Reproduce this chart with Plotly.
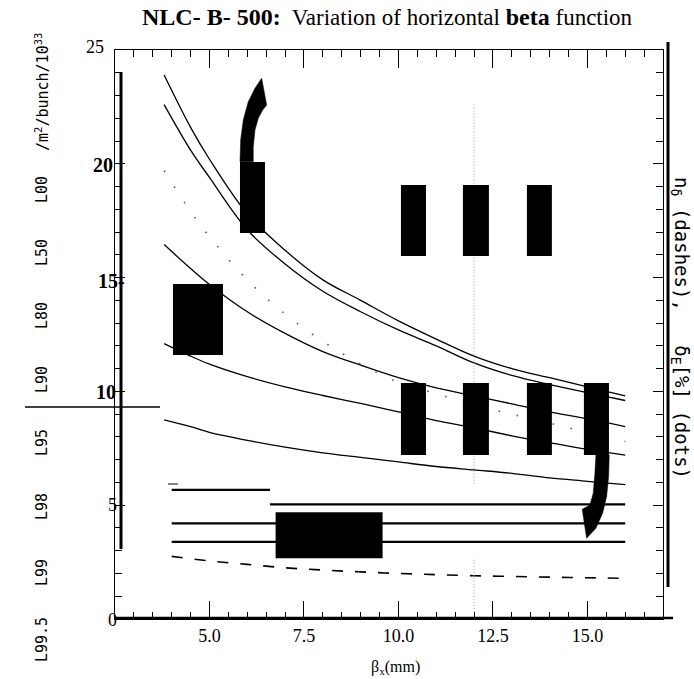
import plotly.graph_objects as go

# ---- data ---------------------------------------------------------------
beta_x = [3.8, 4.5, 5, 6, 7, 8, 9, 10, 11, 12, 13, 14, 15, 16]

lum_1 = [23.9, 21.6, 20.2, 17.8, 16.2, 14.9, 14.0, 13.1, 12.3, 11.55, 11.0, 10.6, 10.2, 9.8]
lum_2 = [22.6, 20.6, 19.4, 17.1, 15.6, 14.4, 13.5, 12.7, 12.0, 11.25, 10.7, 10.3, 9.95, 9.6]
lum_3 = [16.45, 15.4, 14.7, 13.5, 12.55, 11.75, 11.15, 10.6, 10.15, 9.8, 9.45, 9.1, 8.8, 8.45]
lum_4 = [12.1, 11.55, 11.2, 10.65, 10.2, 9.82, 9.47, 9.1, 8.72, 8.4, 8.05, 7.75, 7.45, 7.2]
lum_5 = [8.75, 8.45, 8.2, 7.85, 7.55, 7.3, 7.1, 6.9, 6.7, 6.55, 6.4, 6.2, 6.05, 5.9]

delta_e = [19.7, 17.9, 16.8, 14.9, 13.4, 12.2, 11.2, 10.4, 9.9, 9.4, 9.0, 8.6, 8.2, 7.8]

beta_n = [4.0, 5, 6, 7, 8, 9, 10, 11, 12, 13, 14, 15, 16]
n_delta = [2.75, 2.55, 2.4, 2.25, 2.15, 2.07, 2.0, 1.95, 1.9, 1.87, 1.84, 1.81, 1.79]

flat_levels = [5.67, 5.04, 4.2, 3.39]
flat_start = [4.0, 6.6, 4.0, 4.0]
flat_end = [6.6, 16.0, 16.0, 16.0]

x_ticks = [5, 7.5, 10, 12.5, 15]
x_ticktext = ["5.0", "7.5", "10.0", "12.5", "15.0"]

y_ticks = [25, 20, 15, 10, 5, 0]
y_ticktext = ["25", "<b>20</b>", "<b>15-</b>", "<b>10</b>", "5", "0"]

left_labels = ["L99.5", "L99", "L98", "L95", "L90", "L80", "L50", "L00",
               "/m<sup>2</sup>/bunch/10<sup>33</sup>"]

# ---- figure ---------------------------------------------------------------
W, H = 694, 679
L, R, T, B = 115, 31, 50, 60
PW, PH = W - L - R, H - T - B


def px_x(px):
    return (px - L) / PW


def px_y(py):
    return (H - B - py) / PH


fig = go.Figure()

for curve in (lum_1, lum_2, lum_3, lum_4, lum_5):
    fig.add_trace(go.Scatter(x=beta_x, y=curve, mode="lines",
                             line=dict(color="black", width=1.3, shape="spline", smoothing=1.0),
                             hoverinfo="skip"))

fig.add_trace(go.Scatter(x=beta_x, y=delta_e, mode="lines",
                         line=dict(color="#555", width=1.6, dash="1.5px,17px",
                                   shape="spline", smoothing=1.0),
                         hoverinfo="skip"))

fig.add_trace(go.Scatter(x=beta_n, y=n_delta, mode="lines",
                         line=dict(color="black", width=1.6, dash="11px,12px",
                                   shape="spline", smoothing=1.0),
                         hoverinfo="skip"))

for lev, x0, x1 in zip(flat_levels, flat_start, flat_end):
    fig.add_trace(go.Scatter(x=[x0, x1], y=[lev, lev], mode="lines",
                             line=dict(color="black", width=2.2), hoverinfo="skip"))

# faint vertical reference line at beta_x = 12
for y0, y1 in ((22.6, 5.9), (2.6, 0.3)):
    fig.add_trace(go.Scatter(x=[12.0, 12.0], y=[y0, y1], mode="lines",
                             line=dict(color="#999", width=1, dash="1px,2px"),
                             hoverinfo="skip"))

shapes = []

# solid blocks
blocks = [
    (5.807, 6.468, 16.96, 20.08),
    (4.034, 5.357, 11.60, 14.72),
    (10.066, 10.728, 15.95, 19.07),
    (11.706, 12.394, 15.95, 19.07),
    (13.399, 14.060, 15.95, 19.07),
    (10.066, 10.728, 7.21, 10.37),
    (11.706, 12.394, 7.21, 10.37),
    (13.399, 14.060, 7.21, 10.37),
    (14.907, 15.570, 7.21, 10.37),
    (6.750, 9.580, 2.67, 4.69),
]
for x0, x1, y0, y1 in blocks:
    shapes.append(dict(type="rect", xref="x", yref="y", x0=x0, x1=x1, y0=y0, y1=y1,
                       fillcolor="black", line=dict(width=0), layer="above"))


def outline(points):
    return "M " + " L ".join(f"{a},{b}" for a, b in points) + " Z"


hook_up = [(5.807, 20.09), (5.825, 21.05), (5.894, 21.92), (6.026, 22.73), (6.204, 23.32),
           (6.381, 23.76), (6.513, 22.58), (6.407, 22.36), (6.291, 22.0), (6.204, 21.48),
           (6.159, 20.75), (6.159, 20.09)]
hook_down = [(15.577, 7.206), (15.561, 6.252), (15.508, 5.373), (15.402, 4.644),
             (15.225, 3.985), (14.979, 3.546), (14.862, 4.82), (15.066, 5.009),
             (15.153, 5.523), (15.198, 6.402), (15.225, 7.206)]
for pts in (hook_up, hook_down):
    shapes.append(dict(type="path", xref="x", yref="y", path=outline(pts),
                       fillcolor="black", line=dict(color="black", width=0.5), layer="above"))

# heavy strokes along the frame
shapes += [
    dict(type="line", xref="paper", yref="paper", x0=px_x(115), x1=px_x(673),
         y0=px_y(618), y1=px_y(618), line=dict(color="black", width=2.5)),
    dict(type="line", xref="paper", yref="paper", x0=px_x(121), x1=px_x(121),
         y0=px_y(72), y1=px_y(549), line=dict(color="black", width=3)),
    dict(type="line", xref="paper", yref="paper", x0=px_x(668), x1=px_x(668),
         y0=px_y(42), y1=px_y(587), line=dict(color="black", width=3)),
    dict(type="line", xref="paper", yref="paper", x0=px_x(25), x1=px_x(160),
         y0=px_y(407), y1=px_y(407), line=dict(color="black", width=1.4)),
    dict(type="line", xref="paper", yref="paper", x0=px_x(168), x1=px_x(178),
         y0=px_y(484), y1=px_y(484), line=dict(color="black", width=1)),
]

annotations = []

serif = "Liberation Serif"
narrow = "Liberation Sans Narrow"

title = ('<span style="font-family:\'Liberation Serif\';font-weight:bold;font-size:24px">NLC- B- 500:</span>'
         '  Variation of horizontal '
         '<span style="font-family:\'Liberation Serif\';font-weight:bold;font-size:24px">beta</span>'
         ' function')
annotations.append(dict(text=title, xref="paper", yref="paper", x=px_x(387), y=px_y(17),
                        xanchor="center", yanchor="middle", showarrow=False,
                        font=dict(family=narrow, size=23, color="black")))

y_label_px = [(95, 47), (103, 165), (111, 281), (106, 392), (112, 505), (112, 620)]
for val, txt, (lx, ly) in zip(y_ticks, y_ticktext, y_label_px):
    bold = txt.startswith("<b>")
    annotations.append(dict(text=txt, xref="paper", yref="paper", x=px_x(lx), y=px_y(ly),
                            xanchor="center", yanchor="middle", showarrow=False,
                            font=dict(family=serif if bold else narrow,
                                      size=20 if bold else 18, color="black")))

annotations.append(dict(text="β<sub>x</sub>(mm)", xref="paper", yref="paper",
                        x=px_x(395), y=px_y(667), xanchor="center", yanchor="middle",
                        showarrow=False, font=dict(family=narrow, size=16, color="black")))

left_centers = [640, 573, 507, 443, 380, 316, 253, 190, 92]
for txt, cy in zip(left_labels, left_centers):
    annotations.append(dict(text=txt, xref="paper", yref="paper", x=px_x(42), y=px_y(cy),
                            xanchor="center", yanchor="middle", textangle=-90,
                            showarrow=False,
                            font=dict(family="DejaVu Sans Mono", size=15, color="black")))

annotations.append(dict(text="n<sub>δ</sub> (dashes),   δ<sub>E</sub>[%] (dots)",
                        xref="paper", yref="paper", x=px_x(681), y=px_y(328),
                        xanchor="center", yanchor="middle", textangle=90, showarrow=False,
                        font=dict(family="DejaVu Sans Mono", size=19, color="black")))

fig.update_layout(
    width=W, height=H,
    margin=dict(l=L, r=R, t=T, b=B),
    paper_bgcolor="white", plot_bgcolor="white",
    showlegend=False,
    shapes=shapes,
    annotations=annotations,
    xaxis=dict(range=[2.5, 17], showline=True, linecolor="black", linewidth=1,
               mirror="ticks", ticks="inside", ticklen=18, tickwidth=1, tickcolor="black",
               tickvals=x_ticks, ticktext=x_ticktext,
               tickfont=dict(family=narrow, size=18, color="black"),
               showgrid=False, zeroline=False,
               minor=dict(ticks="inside", ticklen=7, tickcolor="black", tickmode="linear",
                          tick0=0, dtick=0.5, showgrid=False)),
    yaxis=dict(range=[0, 25], showline=True, linecolor="black", linewidth=1,
               mirror="ticks", ticks="inside", ticklen=10, tickwidth=1, tickcolor="black",
               tickmode="linear", tick0=0, dtick=5, showticklabels=False,
               showgrid=False, zeroline=False,
               minor=dict(ticks="inside", ticklen=7, tickcolor="black", tickmode="linear",
                          tick0=0, dtick=1, showgrid=False)),
)

fig.write_html("out.html")
